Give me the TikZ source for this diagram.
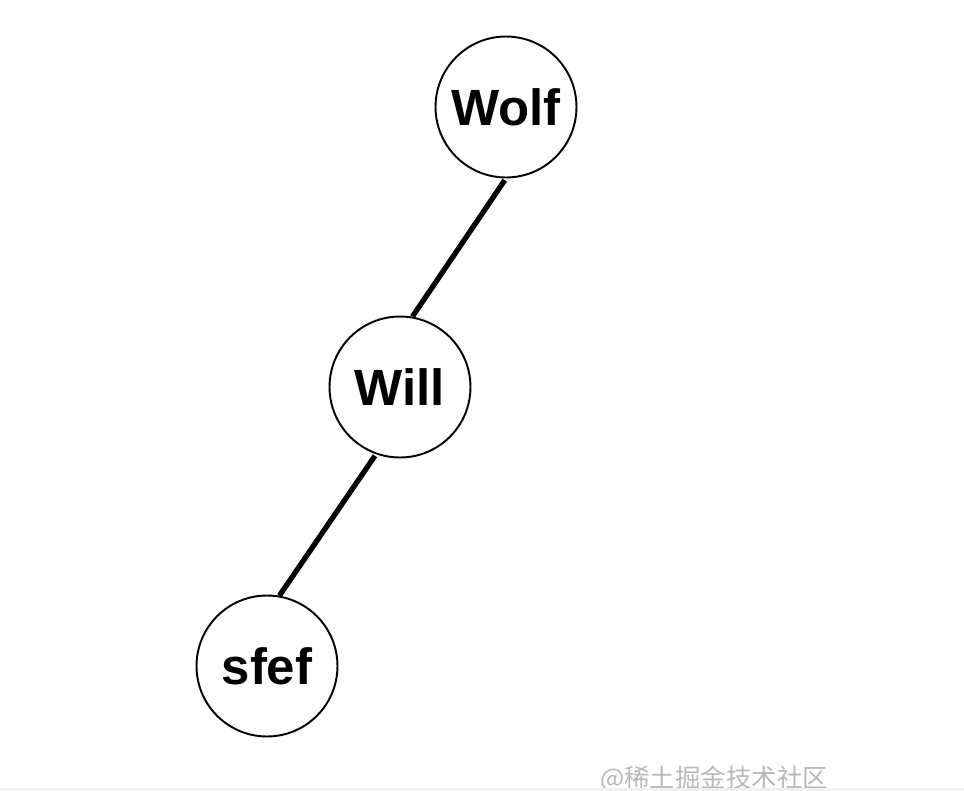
\documentclass[tikz,border=0pt]{standalone}
\usepackage{fontspec}
\setmainfont{Liberation Sans}
\newfontfamily\cjk{Noto Sans CJK SC}
\usepackage{tikz}
\usetikzlibrary{positioning}

\begin{document}
\begin{tikzpicture}[x=0.02cm, y=-0.02cm,
  person/.style={draw, circle, line width=1.1pt, minimum size=2.82cm, inner sep=0pt,
                 fill=white, font=\fontsize{29}{34}\selectfont\bfseries},
  link/.style={line width=3pt, black},
  wmark/.style={text=gray!55, font=\cjk\fontsize{14.5}{16}\selectfont},
]
\useasboundingbox (0,0) rectangle (964,791);
\node[person] (wolf) at (506,107) {Wolf};
\node[person] (will) at (400,387) {Will};
\node[person] (sfef) at (267,666) {sfef};

\foreach \a/\pa/\b/\pb in {wolf/-91/will/80, will/-110/sfef/80}
  \draw[link] ([shift={(\pa:1pt)}]\a.\pa) -- (\b.\pb);

% watermark
\node[wmark, anchor=west] (wm) at (594,779) {@稀土掘金技术社区};
\fill[gray!12] (0,788) rectangle (964,791);
\end{tikzpicture}
\end{document}
